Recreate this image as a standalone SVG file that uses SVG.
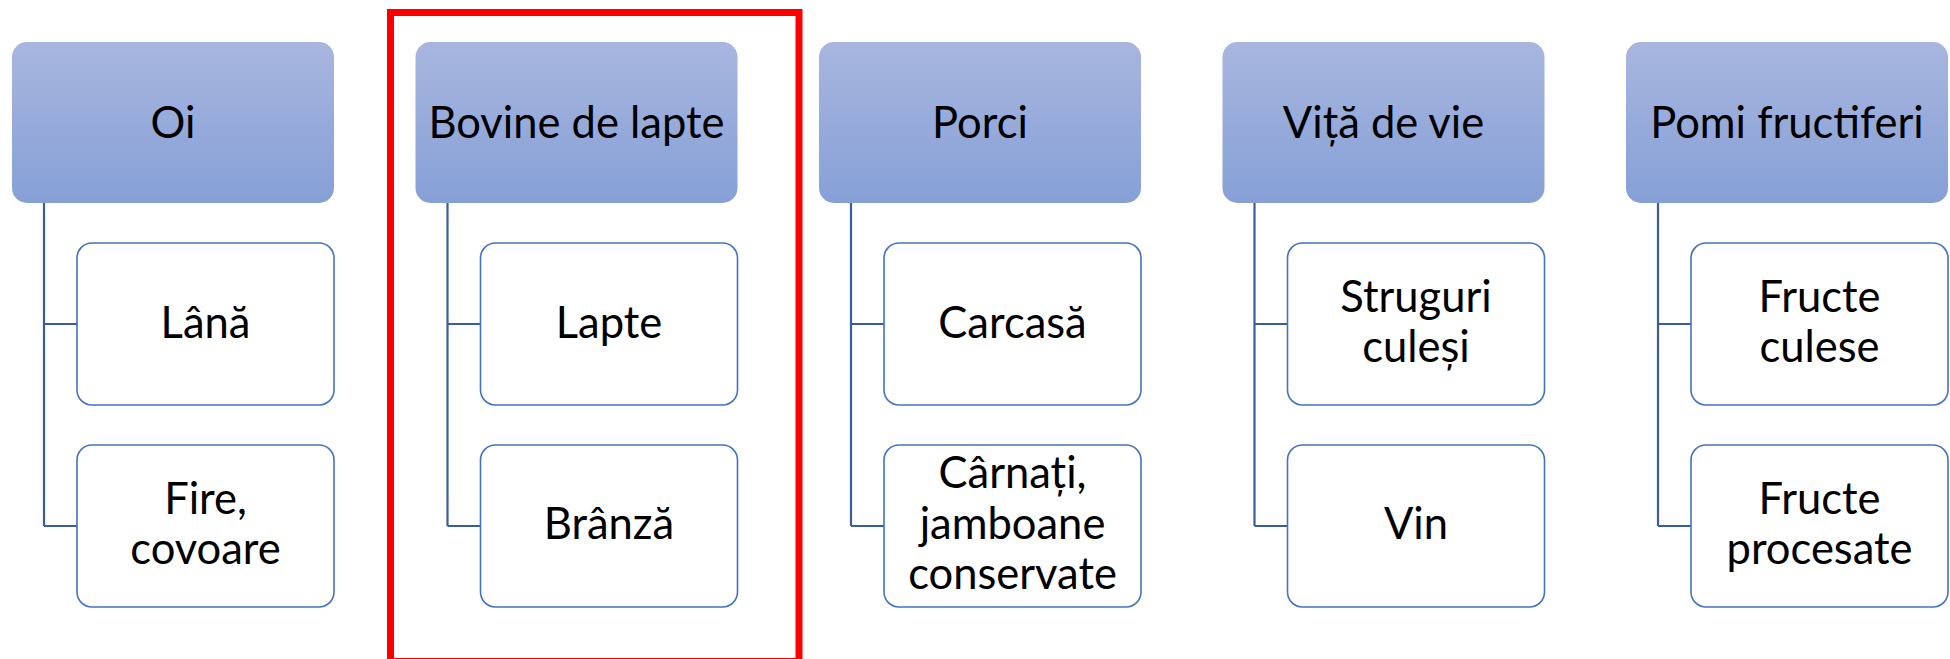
<svg xmlns="http://www.w3.org/2000/svg" width="1950" height="659" viewBox="0 0 1950 659">
  <defs>
    <linearGradient id="hdrFill" x1="0" y1="0" x2="0" y2="1">
      <stop offset="0" stop-color="#A8B6DF"/>
      <stop offset="1" stop-color="#86A0D6"/>
    </linearGradient>
    <style>
      .hdr { fill: url(#hdrFill); stroke: none; }
      .item { fill: #FFFFFF; stroke: #4472C4; stroke-width: 1.6; }
      .lbl { font-family: Lato, "Liberation Sans", sans-serif; font-size: 43.5px; fill: #000000; text-anchor: middle; }
      .link { fill: none; stroke: #3A5CA0; stroke-width: 2.2; }
      .focus { fill: none; stroke: #FF0000; stroke-width: 7; }
    </style>
  </defs>
  <rect width="1950" height="659" fill="#FFFFFF"/>

  <!-- tree connectors -->
  <g id="connectors">
    <path class="link" d="M44,203 V526 M44,324 H77 M44,526 H77"/>
    <path class="link" d="M447.5,203 V526 M447.5,324 H480.5 M447.5,526 H480.5"/>
    <path class="link" d="M851,203 V526 M851,324 H884 M851,526 H884"/>
    <path class="link" d="M1254.5,203 V526 M1254.5,324 H1287.5 M1254.5,526 H1287.5"/>
    <path class="link" d="M1658,203 V526 M1658,324 H1691 M1658,526 H1691"/>
  </g>

  <!-- column 1 -->
  <g id="oi">
    <rect class="hdr" x="12" y="42" width="322" height="161" rx="15"/>
    <text class="lbl" x="173" y="138">Oi</text>
  </g>
  <g id="lana">
    <rect class="item" x="77" y="243" width="257" height="162" rx="15"/>
    <text class="lbl" x="205.5" y="337.5">Lână</text>
  </g>
  <g id="fire-covoare">
    <rect class="item" x="77" y="445" width="257" height="162" rx="15"/>
    <text class="lbl" x="205.5" y="513.5">Fire,</text>
    <text class="lbl" x="205.5" y="564">covoare</text>
  </g>

  <!-- column 2 -->
  <g id="bovine">
    <rect class="hdr" x="415.5" y="42" width="322" height="161" rx="15"/>
    <text class="lbl" x="576.5" y="138">Bovine de lapte</text>
  </g>
  <g id="lapte">
    <rect class="item" x="480.5" y="243" width="257" height="162" rx="15"/>
    <text class="lbl" x="609" y="337.5">Lapte</text>
  </g>
  <g id="branza">
    <rect class="item" x="480.5" y="445" width="257" height="162" rx="15"/>
    <text class="lbl" x="609" y="539">Brânză</text>
  </g>

  <!-- column 3 -->
  <g id="porci">
    <rect class="hdr" x="819" y="42" width="322" height="161" rx="15"/>
    <text class="lbl" x="980" y="138">Porci</text>
  </g>
  <g id="carcasa">
    <rect class="item" x="884" y="243" width="257" height="162" rx="15"/>
    <text class="lbl" x="1012.5" y="337.5">Carcasă</text>
  </g>
  <g id="carnati">
    <rect class="item" x="884" y="445" width="257" height="162" rx="15"/>
    <text class="lbl" x="1012.5" y="487.5">Cârnați,</text>
    <text class="lbl" x="1012.5" y="538.5">jamboane</text>
    <text class="lbl" x="1012.5" y="589">conservate</text>
  </g>

  <!-- column 4 -->
  <g id="vita">
    <rect class="hdr" x="1222.5" y="42" width="322" height="161" rx="15"/>
    <text class="lbl" x="1383.5" y="138">Viță de vie</text>
  </g>
  <g id="struguri">
    <rect class="item" x="1287.5" y="243" width="257" height="162" rx="15"/>
    <text class="lbl" x="1416" y="311.5">Struguri</text>
    <text class="lbl" x="1416" y="362">culeși</text>
  </g>
  <g id="vin">
    <rect class="item" x="1287.5" y="445" width="257" height="162" rx="15"/>
    <text class="lbl" x="1416" y="539">Vin</text>
  </g>

  <!-- column 5 -->
  <g id="pomi">
    <rect class="hdr" x="1626" y="42" width="322" height="161" rx="15"/>
    <text class="lbl" x="1787" y="138">Pomi fructiferi</text>
  </g>
  <g id="fructe-culese">
    <rect class="item" x="1691" y="243" width="257" height="162" rx="15"/>
    <text class="lbl" x="1819.5" y="311.5">Fructe</text>
    <text class="lbl" x="1819.5" y="362">culese</text>
  </g>
  <g id="fructe-procesate">
    <rect class="item" x="1691" y="445" width="257" height="162" rx="15"/>
    <text class="lbl" x="1819.5" y="513.5">Fructe</text>
    <text class="lbl" x="1819.5" y="564">procesate</text>
  </g>

  <!-- highlight frame around the dairy column -->
  <rect class="focus" x="390.5" y="12.5" width="408.5" height="649"/>
</svg>
